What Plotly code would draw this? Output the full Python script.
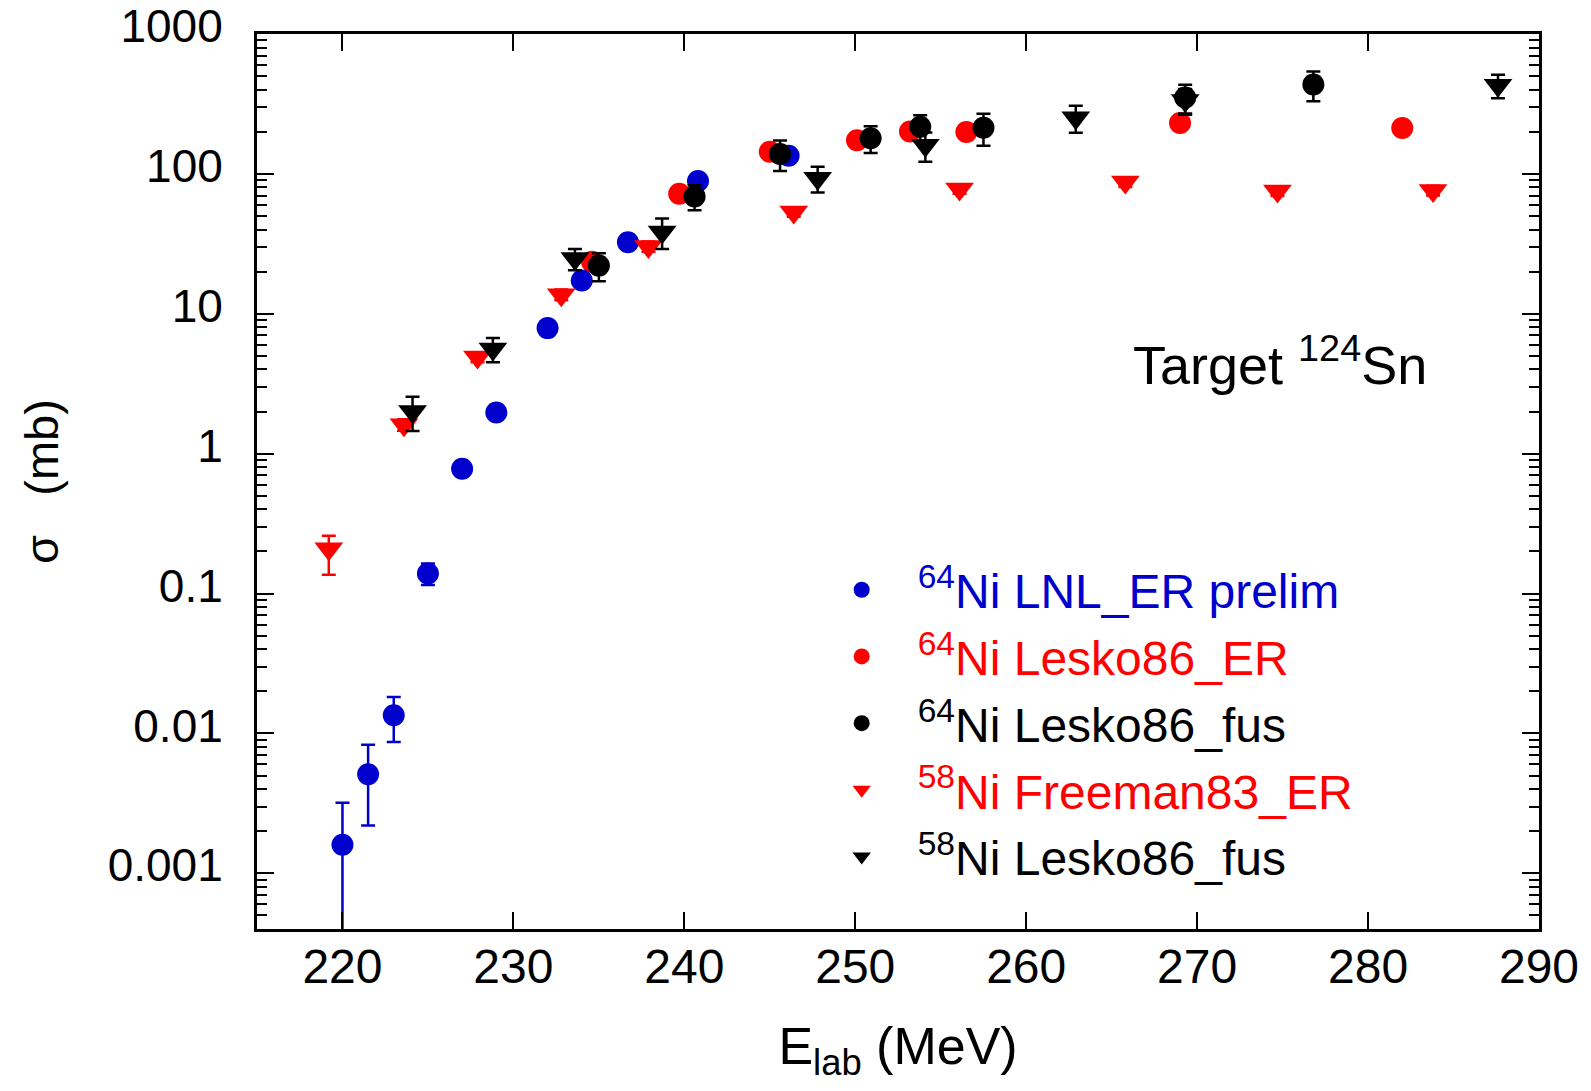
import plotly.graph_objects as go

# 64Ni + 124Sn, LNL evaporation residues (preliminary)
e_lnl = [220.0, 221.5, 223.0, 225.0, 227.0, 229.0, 232.0, 234.0, 236.7, 240.8, 246.1]
s_lnl = [0.0016, 0.0051, 0.0135, 0.139, 0.78, 1.97, 7.9, 17.3, 32.5, 89.0, 135.0]
s_lnl_up = [0.0016, 0.0032, 0.0047, 0.025, 0.03, 0.08, 0.3, 0.7, 1.3, 3.5, 5.0]
s_lnl_dn = [0.0016, 0.0029, 0.0048, 0.024, 0.03, 0.08, 0.3, 0.7, 1.3, 3.5, 5.0]

# 64Ni + 124Sn, Lesko 1986 evaporation residues
e_l64_er = [234.6, 239.7, 245.0, 250.1, 253.2, 256.5, 269.0, 282.0]
s_l64_er = [23.5, 72.0, 144.0, 174.0, 201.0, 199.0, 231.0, 213.0]

# 64Ni + 124Sn, Lesko 1986 fusion
e_l64_fus = [235.0, 240.6, 245.6, 250.9, 253.8, 257.5, 269.3, 276.8]
s_l64_fus = [22.1, 69.0, 139.0, 180.0, 217.0, 214.0, 352.0, 435.0]
s_l64_fus_err = [5.0, 14.0, 34.0, 39.0, 45.0, 55.0, 82.0, 105.0]

# 58Ni + 124Sn, Freeman 1983 evaporation residues
e_f58_er = [219.2, 223.6, 227.9, 232.8, 237.9, 246.4, 256.1, 265.8, 274.7, 283.8]
s_f58_er = [0.209, 1.61, 4.9, 13.7, 30.3, 53.4, 78.0, 87.5, 75.4, 76.2]
s_f58_up = [0.05, 0.15, 0.4, 1.2, 2.5, 4.0, 6.0, 7.0, 6.0, 6.0]
s_f58_dn = [0.073, 0.15, 0.4, 1.2, 2.5, 4.0, 6.0, 7.0, 6.0, 6.0]

# 58Ni + 124Sn, Lesko 1986 fusion
e_l58_fus = [224.1, 228.8, 233.6, 238.7, 247.8, 254.1, 262.9, 269.3, 287.6]
s_l58_fus = [2.0, 5.6, 24.8, 38.5, 93.0, 160.0, 252.0, 335.0, 430.0]
s_l58_fus_err = [0.55, 1.1, 4.3, 9.5, 19.5, 38.0, 55.0, 70.0, 82.0]

BLUE = "#0000cc"
RED = "#ff0000"
BLACK = "#000000"

x_ticks = [220, 230, 240, 250, 260, 270, 280, 290]

SANS = "Liberation Sans, Arial, Helvetica, sans-serif"


def label(sup, rest, color):
    return f'<span style="color:{color}"><sup>{sup}</sup>Ni {rest}</span>'


def err(plus, minus=None, color=BLACK):
    d = dict(type="data", array=plus, color=color, thickness=2.5, width=7)
    if minus is not None:
        d.update(symmetric=False, arrayminus=minus)
    return d


fig = go.Figure()

fig.add_trace(go.Scatter(
    x=e_l64_er, y=s_l64_er, mode="markers", legendrank=2, legendgroup="l64er",
    name=label("64", "Lesko86_ER", RED),
    marker=dict(symbol="circle", size=22, color=RED),
))
fig.add_trace(go.Scatter(
    x=e_lnl, y=s_lnl, mode="markers", legendrank=1, legendgroup="lnl",
    name=label("64", "LNL_ER prelim", BLUE),
    marker=dict(symbol="circle", size=22, color=BLUE),
    error_y=err(s_lnl_up, s_lnl_dn, BLUE),
))
fig.add_trace(go.Scatter(
    x=e_f58_er, y=s_f58_er, mode="markers", legendrank=4, legendgroup="f58er",
    name=label("58", "Freeman83_ER", RED),
    marker=dict(symbol="triangle-down", size=25, color=RED),
    error_y=err(s_f58_up, s_f58_dn, RED),
))
fig.add_trace(go.Scatter(
    x=e_l58_fus, y=s_l58_fus, mode="markers", legendrank=5, legendgroup="l58fus",
    name=label("58", "Lesko86_fus", BLACK),
    marker=dict(symbol="triangle-down", size=25, color=BLACK),
    error_y=err(s_l58_fus_err),
))
fig.add_trace(go.Scatter(
    x=e_l64_fus, y=s_l64_fus, mode="markers", legendrank=3, legendgroup="l64fus",
    name=label("64", "Lesko86_fus", BLACK),
    marker=dict(symbol="circle", size=22, color=BLACK),
    error_y=err(s_l64_fus_err),
))

axis_common = dict(
    showline=True, linewidth=3, linecolor=BLACK, mirror="allticks",
    ticks="inside", tickwidth=2, tickcolor=BLACK, showgrid=False, zeroline=False,
    automargin=False,
)

fig.update_xaxes(
    range=[215, 290], tickmode="array", tickvals=x_ticks, ticklen=17,
    tickfont=dict(family=SANS, size=48, color=BLACK), ticklabelstandoff=-7,
    title=dict(text="E<sub>lab</sub> (MeV)", font=dict(family=SANS, size=52, color=BLACK),
               standoff=37),
    **axis_common,
)
fig.update_yaxes(
    type="log", range=[-3.398, 3.0], dtick=1, ticklen=17, exponentformat="none",
    minor=dict(ticks="inside", ticklen=10, tickwidth=2, tickcolor=BLACK, dtick="D1", showgrid=False),
    tickfont=dict(family=SANS, size=46, color=BLACK), ticklabelstandoff=22, ticklabelshift=-8,
    title=dict(text="σ   (mb)", font=dict(family=SANS, size=47, color=BLACK), standoff=35),
    **axis_common,
)

fig.add_annotation(
    xref="paper", yref="paper", x=0.682, y=0.635, xanchor="left", yanchor="middle",
    text="Target <sup>124</sup>Sn", showarrow=False,
    font=dict(family=SANS, size=54, color=BLACK),
)

fig.update_layout(
    width=1591, height=1091,
    margin=dict(l=257, r=52, t=34, b=162, autoexpand=False),
    paper_bgcolor="white", plot_bgcolor="white",
    showlegend=True,
    legend=dict(
        x=0.428, y=0.4212, xanchor="left", yanchor="top",
        bgcolor="rgba(0,0,0,0)", borderwidth=0,
        font=dict(family=SANS, size=48, color=BLACK),
        itemwidth=102, tracegroupgap=1.3, traceorder="grouped",
    ),
)

fig.write_html("out.html")
